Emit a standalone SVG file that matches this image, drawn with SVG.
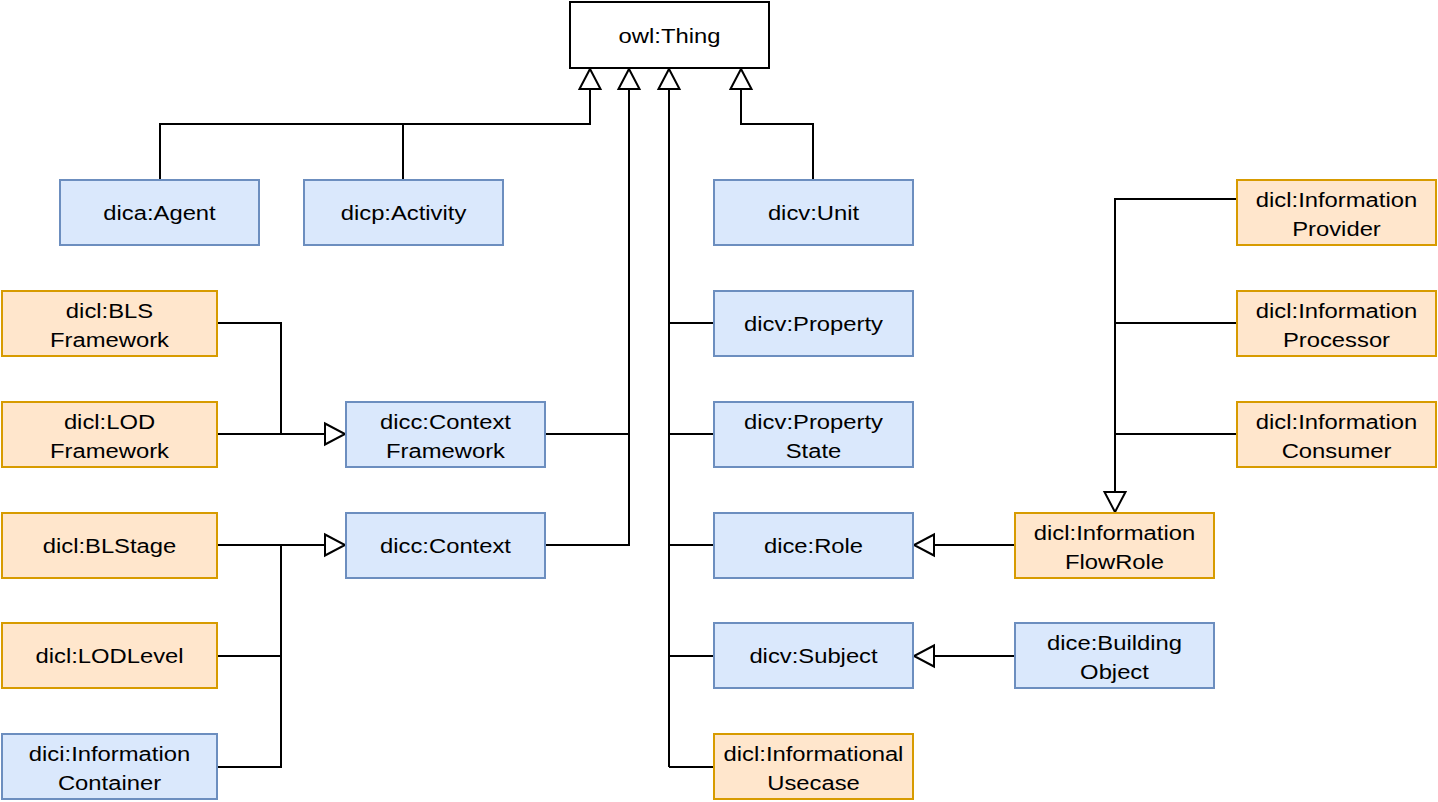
<svg xmlns="http://www.w3.org/2000/svg" width="1438" height="802" viewBox="0 0 1438 802">
<style>
.b{fill:#dae8fc;stroke:#6c8ebf;stroke-width:2}
.o{fill:#ffe6cc;stroke:#d79b00;stroke-width:2}
.w{fill:#ffffff;stroke:#000000;stroke-width:2}
text{font-family:"Liberation Sans",Arial,sans-serif;font-size:20px;fill:#000;text-anchor:middle}
.c path{fill:none;stroke:#000;stroke-width:2}
</style>
<defs>
<marker id="ah" markerUnits="userSpaceOnUse" markerWidth="26" markerHeight="26" viewBox="0 0 26 26" refX="23" refY="13" orient="auto">
<path d="M3,2.5 L23,13 L3,23.5 Z" fill="#fff" stroke="#000" stroke-width="2"/>
</marker>
</defs>
<g class="c" id="connectors">
<path d="M160,180 V124 H590 V69" marker-end="url(#ah)"/>
<path d="M403,180 V124"/>
<path d="M545,434 H629 V69" marker-end="url(#ah)"/>
<path d="M545,545 H629 V434"/>
<path d="M669,767 V69" marker-end="url(#ah)"/>
<path d="M713,323 H669 M713,434 H669 M713,545 H669 M713,656 H669 M713,767 H669"/>
<path d="M813,180 V124 H741 V69" marker-end="url(#ah)"/>
<path d="M217,323 H281 V434"/>
<path d="M217,434 H345" marker-end="url(#ah)"/>
<path d="M217,545 H345" marker-end="url(#ah)"/>
<path d="M217,656 H281 V545"/>
<path d="M217,767 H281 V656"/>
<path d="M1237,199 H1115 V512" marker-end="url(#ah)"/>
<path d="M1237,323 H1115 M1237,434 H1115"/>
<path d="M1015,545 H914" marker-end="url(#ah)"/>
<path d="M1015,656 H914" marker-end="url(#ah)"/>
</g>
<g id="thing"><rect class="w" x="570" y="2" width="199" height="66"/><text transform="translate(669.5,43) scale(1.19,1)">owl:Thing</text></g>
<g id="agent"><rect class="b" x="60" y="180" width="199" height="65"/><text transform="translate(159.5,220) scale(1.19,1)">dica:Agent</text></g>
<g id="activity"><rect class="b" x="304" y="180" width="199" height="65"/><text transform="translate(403.5,220) scale(1.19,1)">dicp:Activity</text></g>
<g id="unit"><rect class="b" x="714" y="180" width="199" height="65"/><text transform="translate(813.5,220) scale(1.19,1)">dicv:Unit</text></g>
<g id="provider"><rect class="o" x="1237" y="180" width="199" height="65"/><text transform="translate(1336.5,207) scale(1.19,1)"><tspan x="0">dicl:Information</tspan><tspan x="0" dy="29">Provider</tspan></text></g>
<g id="bls"><rect class="o" x="2" y="291" width="215" height="65"/><text transform="translate(109.5,318) scale(1.19,1)"><tspan x="0">dicl:BLS</tspan><tspan x="0" dy="29">Framework</tspan></text></g>
<g id="property"><rect class="b" x="714" y="291" width="199" height="65"/><text transform="translate(813.5,331) scale(1.19,1)">dicv:Property</text></g>
<g id="processor"><rect class="o" x="1237" y="291" width="199" height="65"/><text transform="translate(1336.5,318) scale(1.19,1)"><tspan x="0">dicl:Information</tspan><tspan x="0" dy="29">Processor</tspan></text></g>
<g id="lod"><rect class="o" x="2" y="402" width="215" height="65"/><text transform="translate(109.5,429) scale(1.19,1)"><tspan x="0">dicl:LOD</tspan><tspan x="0" dy="29">Framework</tspan></text></g>
<g id="ctxfw"><rect class="b" x="346" y="402" width="199" height="65"/><text transform="translate(445.5,429) scale(1.19,1)"><tspan x="0">dicc:Context</tspan><tspan x="0" dy="29">Framework</tspan></text></g>
<g id="propstate"><rect class="b" x="714" y="402" width="199" height="65"/><text transform="translate(813.5,429) scale(1.19,1)"><tspan x="0">dicv:Property</tspan><tspan x="0" dy="29">State</tspan></text></g>
<g id="consumer"><rect class="o" x="1237" y="402" width="199" height="65"/><text transform="translate(1336.5,429) scale(1.19,1)"><tspan x="0">dicl:Information</tspan><tspan x="0" dy="29">Consumer</tspan></text></g>
<g id="blstage"><rect class="o" x="2" y="513" width="215" height="65"/><text transform="translate(109.5,553) scale(1.19,1)">dicl:BLStage</text></g>
<g id="ctx"><rect class="b" x="346" y="513" width="199" height="65"/><text transform="translate(445.5,553) scale(1.19,1)">dicc:Context</text></g>
<g id="role"><rect class="b" x="714" y="513" width="199" height="65"/><text transform="translate(813.5,553) scale(1.19,1)">dice:Role</text></g>
<g id="flowrole"><rect class="o" x="1015" y="513" width="199" height="65"/><text transform="translate(1114.5,540) scale(1.19,1)"><tspan x="0">dicl:Information</tspan><tspan x="0" dy="29">FlowRole</tspan></text></g>
<g id="lodlevel"><rect class="o" x="2" y="623" width="215" height="65"/><text transform="translate(109.5,663) scale(1.19,1)">dicl:LODLevel</text></g>
<g id="subject"><rect class="b" x="714" y="623" width="199" height="65"/><text transform="translate(813.5,663) scale(1.19,1)">dicv:Subject</text></g>
<g id="building"><rect class="b" x="1015" y="623" width="199" height="65"/><text transform="translate(1114.5,650) scale(1.19,1)"><tspan x="0">dice:Building</tspan><tspan x="0" dy="29">Object</tspan></text></g>
<g id="container"><rect class="b" x="2" y="734" width="215" height="65"/><text transform="translate(109.5,761) scale(1.19,1)"><tspan x="0">dici:Information</tspan><tspan x="0" dy="29">Container</tspan></text></g>
<g id="usecase"><rect class="o" x="714" y="734" width="199" height="65"/><text transform="translate(813.5,761) scale(1.19,1)"><tspan x="0">dicl:Informational</tspan><tspan x="0" dy="29">Usecase</tspan></text></g>
</svg>
